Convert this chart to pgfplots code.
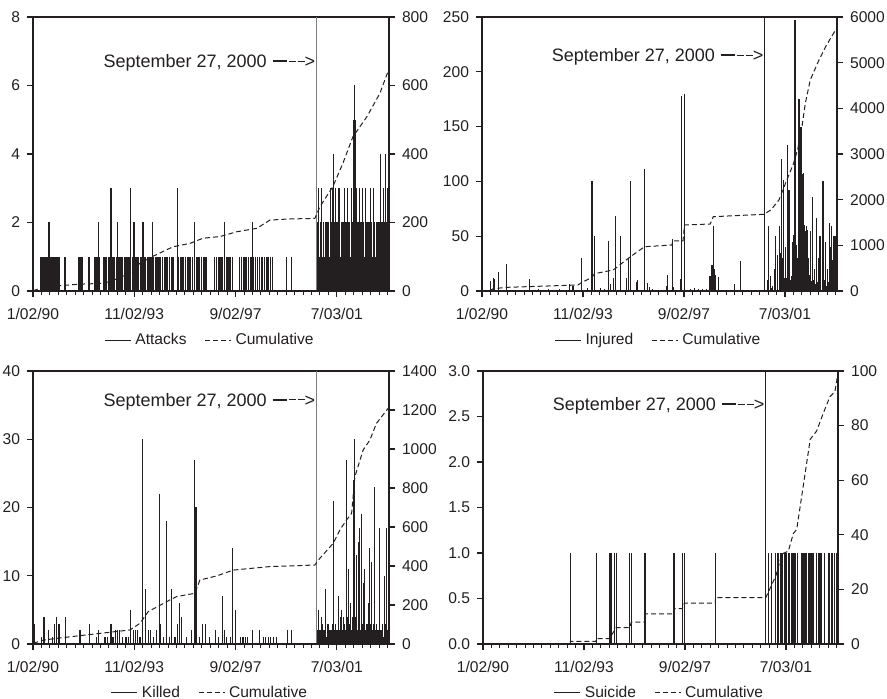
\documentclass[border=0pt]{standalone}
\usepackage{fontspec}
\setmainfont{Liberation Sans}
\usepackage{pgfplots}
\pgfplotsset{compat=1.18}

\definecolor{ink}{RGB}{35,31,32}
\definecolor{sepgray}{RGB}{125,125,125}
\newcommand{\tickfont}{\fontsize{7.8}{9}\selectfont}
\newcommand{\notefont}{\fontsize{9}{10}\selectfont}
% date label with its arrow
\newcommand{\septext}{September 27, 2000\hspace{3pt}\rule[0.3em]{7pt}{0.9pt}\hspace{1pt}\rule[0.33em]{3.5pt}{0.5pt}\hspace{1pt}\rule[0.33em]{3.5pt}{0.5pt}>}
% date ticks along the bottom edge (minor every 83.3 obs, major every 1000)
\newcommand{\dateticks}{%
  \pgfplotsinvokeforeach{0,83.333,...,3500}{\draw[ink, line width=0.5pt] (axis cs:##1,0) -- ++(0pt,-2pt);}%
  \pgfplotsinvokeforeach{0,1000,2000,3000}{\draw[ink, line width=0.55pt] (axis cs:##1,0) -- ++(0pt,-3.2pt);}}

\pgfplotsset{
  base/.style={
    scale only axis, xmin=0, xmax=3515, ymin=0,
    tick align=outside, major tick length=3pt, minor tick length=2pt,
    every tick/.style={ink, line width=0.55pt},
    axis line style={ink, line width=0.6pt, -},
    tick label style={font=\tickfont, text=ink},
    /pgf/number format/assume math mode=true,
    /pgf/number format/1000 sep={},
  },
  % left axis: spikes, left scale, top frame line, legend
  leftpanel/.style={base,
    axis x line*=top, xtick=\empty, axis y line*=left,
    legend image code/.code={\draw[##1] (0pt,0pt) -- (13pt,0pt);},
    legend style={draw=none, fill=none, legend columns=2, at={(0.5,-0.179)},
      anchor=center, font=\tickfont, text=ink, inner sep=0pt,
      /tikz/every even column/.append style={column sep=7pt}},
  },
  % right axis: cumulative, right scale, dates along the bottom
  rightpanel/.style={base, clip=false,
    axis x line*=bottom, axis y line*=right,
    xtick={0,1000,2000,3000},
    xticklabels={1/02/90,11/02/93,9/02/97,7/03/01},
    xticklabel style={yshift=-2pt},
  },
  spike/.style={ycomb, ink, line width=0.55pt, no marks, forget plot},
  cum/.style={ink, line width=0.5pt, dash pattern=on 2.5pt off 1.5pt, no marks},
}

\begin{document}
\begin{tikzpicture}
\useasboundingbox (0,0) rectangle (443.5pt,349.5pt);

% ===== Attacks =====
\begin{axis}[leftpanel, at={(16.5pt,204pt)}, anchor=south west,
  width=178pt, height=137pt, ymax=8, ytick={0,2,...,8}]
\addplot[spike] coordinates {
(79,1)(94,1)(109,1)(128,1)(148,1)(158,2)(173,1)(188,1)(207,1)(227,1)(242,1)(257,1)(316,1)
(454,1)(469,1)(484,1)(553,1)(612,1)(627,1)(642,1)(648,2)(656,1)
(701,1)(716,1)(730,1)(745,1)(760,1)(770,3)(780,1)(795,1)(809,1)(824,1)(836,2)(839,1)(859,1)
(873,1)(888,1)(903,1)(918,1)(938,1)(952,1)(964,3)(967,1)(987,1)(997,2)(1002,1)(1017,1)
(1031,1)(1046,1)(1066,1)(1081,1)(1086,2)(1096,1)(1115,1)(1130,1)(1145,1)(1165,1)(1177,2)
(1179,1)(1194,1)(1214,1)(1229,1)(1244,1)(1263,1)(1283,1)(1298,1)(1313,1)(1332,1)(1352,1)
(1367,1)(1382,1)
(1428,3)(1441,1)(1456,1)(1471,1)(1490,1)(1510,1)(1525,1)(1540,1)(1559,1)(1579,1)(1599,2)
(1614,1)(1629,1)(1648,1)(1668,1)(1688,1)(1703,1)(1717,1)
(1796,1)(1816,1)(1836,1)(1856,1)(1875,1)(1895,2)(1915,1)(1935,1)(1954,1)(1974,1)
(2043,1)(2063,1)(2083,1)(2097,1)(2112,1)(2132,1)(2152,1)(2166,1)(2171,2)(2181,1)(2201,1)
(2221,1)(2240,1)(2255,1)(2270,1)(2290,1)(2310,1)(2329,1)(2349,1)(2369,1)
(2507,1)(2556,1)
(2808,2)(2815,1)(2823,3)(2830,1)(2838,2)(2845,2)(2852,3)(2860,1)(2867,2)(2875,1)(2882,1)
(2890,2)(2897,2)(2905,1)(2912,2)(2919,2)(2926,1)(2934,1)(2941,3)(2949,2)(2956,3)(2964,2)
(2971,4)(2979,2)(2986,3)(2993,1)(3000,2)(3008,2)(3015,3)(3023,2)(3030,3)(3038,1)(3045,2)
(3052,2)(3060,1)(3067,2)(3074,3)(3082,1)(3089,2)(3097,2)(3104,3)(3111,1)(3119,2)(3126,2)
(3134,1)(3141,2)(3149,3)(3156,2)(3163,5)(3168,5)(3173,6)(3178,5)(3183,5)(3190,2)(3198,3)
(3205,2)(3213,2)(3220,1)(3227,3)(3235,2)(3242,2)(3250,1)(3257,3)(3265,2)(3272,1)(3280,2)
(3287,3)(3295,2)(3302,2)(3309,1)(3316,2)(3324,2)(3331,3)(3339,2)(3346,2)(3354,1)(3361,3)
(3368,2)(3376,2)(3383,1)(3390,2)(3398,2)(3405,1)(3413,2)(3420,2)(3428,1)(3435,4)(3442,2)
(3450,2)(3457,1)(3464,3)(3472,2)(3479,4)(3487,2)(3494,2)(3500,1)(3504,3)};
\draw[sepgray, line width=0.5pt] (axis cs:2800,0) -- (axis cs:2800,8);
\node[anchor=east, font=\notefont, text=ink, inner sep=0pt, xshift=-0.5pt] at (axis cs:2800,6.66) {\septext};
\addlegendimage{ink, line width=0.5pt}\addlegendentry{Attacks}
\addlegendimage{cum}\addlegendentry{Cumulative}
\end{axis}
\begin{axis}[rightpanel, at={(16.5pt,204pt)}, anchor=south west,
  width=178pt, height=137pt, ymax=800, ytick={0,200,...,800}]
\addplot[cum] coordinates {
(0,0)(99,12)(247,15)(464,20)(661,22)(760,27)(957,52)(1056,81)(1175,100)(1382,129)
(1550,139)(1678,154)(1846,159)(2013,173)(2211,183)(2339,207)(2507,210)(2783,212)
(2833,246)(2961,305)(3060,373)(3158,450)(3297,509)(3425,577)(3504,640)};
\dateticks
\end{axis}

% ===== Injured =====
\begin{axis}[leftpanel, at={(241pt,204pt)}, anchor=south west,
  width=177.5pt, height=137pt, ymax=250, ytick={0,50,...,250}]
\addplot[spike] coordinates {
(86,9)(112,12)(124,11)(161,17)(244,25)(474,11)(560,2)(654,2)(770,2)(869,6)(901,5)(984,30)
(1046,3)(1089,100)(1115,50)(1175,3)(1214,2)(1253,46)(1273,6)(1303,12)(1323,68)(1372,50)
(1428,12)(1454,30)(1471,100)(1527,8)(1543,10)(1606,111)(1612,75)(1635,7)(1658,4)(1688,2)
(1823,5)(1839,15)(1882,47)(1895,4)(1964,11)(1977,178)(2001,180)(2063,2)(2102,3)(2142,2)
(2181,2)(2221,2)(2257,14)(2277,24)(2290,59)(2303,20)(2315,15)(2342,13)(2504,6)(2563,27)
(2826,10)(2838,59)(2859,14)(2877,5)(2892,20)(2909,50)(2924,33)(2941,59)(2951,35)(2964,120)
(2974,30)(2981,101)(2995,12)(3005,40)(3023,133)(3033,15)(3040,92)(3052,10)(3060,14)
(3073,45)(3082,15)(3089,51)(3099,247)(3109,42)(3119,30)(3129,20)(3139,175)(3148,90)
(3158,150)(3171,107)(3181,108)(3191,60)(3201,55)(3211,59)(3221,56)(3230,30)(3240,15)
(3254,55)(3270,86)(3282,10)(3292,20)(3309,67)(3321,8)(3336,30)(3346,50)(3376,100)
(3385,50)(3395,10)(3405,45)(3415,5)(3425,20)(3440,62)(3450,40)(3459,59)(3469,28)
(3479,50)(3489,50)(3499,50)
(2870,3)(2900,6)(2930,4)(2960,8)(2990,10)(3015,12)(3045,9)(3068,11)(3095,14)(3125,12)
(3165,15)(3186,20)(3206,18)(3235,12)(3262,9)(3300,6)(3330,8)(3355,5)(3367,7)(3420,6)
(3433,8)(3464,4)(3494,5)};
\draw[ink, line width=0.5pt] (axis cs:2800,0) -- (axis cs:2800,250);
\node[anchor=east, font=\notefont, text=ink, inner sep=0pt, xshift=-0.5pt] at (axis cs:2800,213.5) {\septext};
\addlegendimage{ink, line width=0.5pt}\addlegendentry{Injured}
\addlegendimage{cum}\addlegendentry{Cumulative}
\end{axis}
\begin{axis}[rightpanel, at={(241pt,204pt)}, anchor=south west,
  width=177.5pt, height=137pt, ymax=6000, ytick={0,1000,...,6000}]
\addplot[cum] coordinates {
(0,0)(86,20)(112,50)(244,80)(950,131)(984,182)(1089,300)(1115,380)(1300,460)(1470,752)
(1610,970)(1880,1007)(1890,1100)(1990,1100)(2005,1445)(2260,1467)(2290,1627)(2790,1679)
(2860,1774)(2940,1993)(3005,2358)(3085,2796)(3128,3124)(3168,3598)(3201,4110)(3250,4620)
(3336,5058)(3402,5350)(3500,5715)};
\dateticks
\end{axis}

% ===== Killed =====
\begin{axis}[leftpanel, at={(16.5pt,27.5pt)}, anchor=south west,
  width=178pt, height=136.5pt, ymax=40, ytick={0,10,...,40}]
\addplot[spike] coordinates {
(10,3)(86,1)(109,4)(151,2)(194,1)(210,3)(234,4)(257,3)(323,4)(464,2)(556,3)(629,1)(651,2)
(711,1)(737,1)(770,3)(790,1)(812,2)(832,2)(852,2)(881,1)(918,1)(941,1)(967,5)(990,2)
(1010,2)(1029,2)(1056,1)(1083,30)(1112,8)(1138,2)(1162,2)(1187,1)(1221,2)(1247,22)
(1263,3)(1286,1)(1320,18)(1345,1)(1369,8)(1402,1)(1428,3)(1444,6)(1468,4)(1517,1)
(1566,2)(1596,27)(1609,20)(1648,1)(1671,3)(1705,3)(1747,1)(1803,2)(1829,1)(1872,7)
(1895,2)(1912,1)(1951,1)(1971,14)(2001,5)(2053,1)(2073,1)(2095,1)(2122,1)(2168,2)
(2234,2)(2273,1)(2300,1)(2322,1)(2349,1)(2372,1)(2408,1)(2510,2)(2556,2)
(2808,2)(2816,1)(2823,1)(2831,2)(2838,2)(2846,1)(2853,3)(2861,2)(2868,2)(2876,1)(2883,2)
(2891,2)(2898,1)(2906,2)(2913,3)(2921,1)(2928,2)(2936,2)(2943,2)(2951,1)(2958,3)(2966,2)
(2973,2)(2981,1)(2988,3)(2996,2)(3003,2)(3011,2)(3018,3)(3026,2)(3033,4)(3041,2)(3048,3)
(3056,2)(3063,4)(3071,3)(3078,3)(3086,2)(3093,4)(3101,3)(3108,4)(3116,2)(3123,3)(3131,4)
(3138,4)(3146,2)(3153,4)(3161,3)(3168,3)(3176,2)(3183,4)(3191,3)(3198,4)(3206,2)(3213,3)
(3221,4)(3228,4)(3236,2)(3243,2)(3251,3)(3258,3)(3266,2)(3273,4)(3281,1)(3288,2)(3296,3)
(3303,3)(3311,2)(3318,2)(3326,1)(3333,3)(3341,2)(3348,2)(3356,2)(3363,3)(3371,1)(3378,2)
(3386,2)(3393,3)(3401,2)(3408,2)(3416,1)(3423,3)(3431,2)(3438,2)(3446,2)(3453,3)(3461,1)
(3468,2)(3476,2)(3483,3)(3491,2)(3498,2)(3505,1)
(2816,5)(2849,4)(2892,8)(2964,21)(3020,7)(3047,5)(3096,27)(3112,11)(3136,6)(3161,24)
(3178,30)(3195,13)(3211,15)(3227,17)(3244,19)(3260,9)(3277,11)(3309,6)(3326,14)(3343,12)
(3376,23)(3418,17)(3474,10)(3491,17)(3507,17)};
\draw[sepgray, line width=0.5pt] (axis cs:2800,0) -- (axis cs:2800,40);
\node[anchor=east, font=\notefont, text=ink, inner sep=0pt, xshift=-0.5pt] at (axis cs:2800,35.5) {\septext};
\addlegendimage{ink, line width=0.5pt}\addlegendentry{Killed}
\addlegendimage{cum}\addlegendentry{Cumulative}
\end{axis}
\begin{axis}[rightpanel, at={(16.5pt,27.5pt)}, anchor=south west,
  width=178pt, height=136.5pt, ymax=1400, ytick={0,200,...,1400}]
\addplot[cum] coordinates {
(3,4)(102,20)(234,29)(957,72)(1056,106)(1138,166)(1352,226)(1418,243)(1599,260)(1648,328)
(1813,349)(1977,379)(2339,397)(2783,405)(2833,440)(2964,516)(3030,585)(3096,636)
(3146,670)(3178,858)(3260,995)(3326,1046)(3392,1132)(3507,1209)};
\dateticks
\end{axis}

% ===== Suicide =====
\begin{axis}[leftpanel, at={(241.5pt,27.5pt)}, anchor=south west,
  width=177.5pt, height=136.5pt, ymax=3, ytick={0,0.5,...,3},
  yticklabel style={/pgf/number format/.cd, fixed, fixed zerofill, precision=1}]
\addplot[spike] coordinates {
(864,1)(1120,1)(1251,1)(1263,1)(1276,1)(1306,1)(1320,1)(1454,1)(1468,1)(1604,1)(1882,1)
(1892,1)(1974,1)(1994,1)(2300,1)
(2826,1)(2859,1)(2892,1)(2912,1)(2927,1)(2941,1)(2954,1)(2967,1)(2981,1)(2994,1)(3007,1)
(3023,1)(3036,1)(3050,1)(3063,1)(3076,1)(3089,1)(3114,1)(3155,1)(3168,1)(3181,1)(3194,1)
(3204,1)(3221,1)(3234,1)(3247,1)(3260,1)(3270,1)(3303,1)(3319,1)(3333,1)(3346,1)(3385,1)
(3418,1)(3435,1)(3448,1)(3461,1)(3484,1)(3497,1)(3509,1)};
\draw[ink, line width=0.5pt] (axis cs:2800,0) -- (axis cs:2800,3);
\node[anchor=east, font=\notefont, text=ink, inner sep=0pt, xshift=-0.5pt] at (axis cs:2800,2.615) {\septext};
\addlegendimage{ink, line width=0.5pt}\addlegendentry{Suicide}
\addlegendimage{cum}\addlegendentry{Cumulative}
\end{axis}
\begin{axis}[rightpanel, at={(241.5pt,27.5pt)}, anchor=south west,
  width=177.5pt, height=136.5pt, ymax=100, ytick={0,20,...,100}]
\addplot[cum] coordinates {
(0,0)(864,0)(864,1)(1120,1)(1120,2)(1251,2)(1320,6)(1454,6)(1468,8)(1604,8)(1604,11)
(1882,11)(1892,13)(1974,13)(1994,15)(2300,15)(2300,17)(2800,17)(2900,25)(2960,33)
(3023,34)(3073,40.5)(3106,42)(3155,54)(3240,75)(3303,78)(3369,84.5)(3435,90.6)
(3484,92.4)(3517,99.7)};
\dateticks
\end{axis}
\end{tikzpicture}
\end{document}
